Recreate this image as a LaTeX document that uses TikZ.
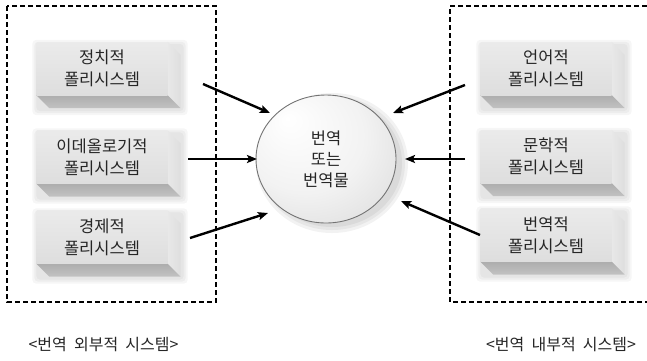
\documentclass[tikz,border=0pt]{standalone}
\usepackage{fontspec}
\setmainfont{Noto Sans CJK KR}
\newfontfamily\captionfont{Noto Sans CJK KR}[WordSpace=2]
\usetikzlibrary{arrows.meta,shapes.geometric,calc,backgrounds}

% highlight of the central disc sits up and to the left
\pgfdeclareradialshading{orbshade}{\pgfpoint{-14bp}{16bp}}{color(0bp)=(white); color(22bp)=(black!5); color(50bp)=(black!19)}

\tikzset{
  frame/.style={line width=1.6pt, dash pattern=on 5pt off 3pt},
  slab/.style={rectangle, minimum width=131pt, minimum height=53pt, inner sep=0pt,
    align=center, font=\fontsize{16.5}{22}\selectfont, text=black!85,
    top color=black!8, bottom color=black!13},
  slabside/.style={left color=black!9, right color=black!13},
  slabbottom/.style={top color=black!32, bottom color=black!24},
  feed/.style={line width=2.4pt, -{Stealth[length=10pt,width=8pt,inset=2pt]}},
  caption/.style={font=\captionfont\fontsize{16}{18}\selectfont, text=black!85, inner sep=0pt},
}

% a bevelled slab: front face as a node, bottom and right faces behind it
\newcommand\slabbox[3]{%
  \node[slab] (#1) at (#2) {#3};
  \begin{pgfonlayer}{background}
    \foreach \g in {6,4,2}
      \fill[black, opacity=0.035, rounded corners=4pt]
        ($(#1.north west)+(-\g+2,-\g+4)$) rectangle ($(#1.south east)+(13+\g+1,13+\g+1)$);
    \path[slabside] (#1.north east) -- ++(13,13) -- ($(#1.south east)+(13,13)$)
      -- (#1.south east) -- cycle;
    \path[slabbottom] (#1.south west) -- (#1.south east) -- ++(13,13)
      -- ($(#1.south west)+(13,13)$) -- cycle;
  \end{pgfonlayer}}

\begin{document}
\begin{tikzpicture}[x=1pt, y=-1pt]
\useasboundingbox (0,0) rectangle (647,360);

% outer and inner system frames
\draw[frame] (7,6) rectangle (216,302);
\draw[frame] (655,6) -- (450,6) -- (450,302) -- (655,302);

% outer polysystems
\slabbox{pol}{102,68.5}{정치적\\폴리시스템}
\slabbox{ideo}{102,157}{이데올로기적\\폴리시스템}
\slabbox{eco}{102,237}{경제적\\폴리시스템}

% inner polysystems
\slabbox{lang}{546,68.5}{언어적\\폴리시스템}
\slabbox{lit}{546,156.5}{문학적\\폴리시스템}
\slabbox{trans}{546,235}{번역적\\폴리시스템}

% soft shadow of the central disc
\foreach \g in {0,3,6}
  \fill[black, opacity=0.05] (332,163) ellipse ({70+\g} and {64+\g});

% central disc
\node[ellipse, minimum width=140pt, minimum height=128pt, draw=black!55,
  line width=0.9pt, shading=orbshade, align=center,
  font=\fontsize{16.5}{21}\selectfont, text=black!85] (orb) at (326,159)
  {번역\\또는\\번역물};

% arrow end points
\coordinate (polS) at (203,84);   \coordinate (polE) at (270,113);
\coordinate (ideoS) at (188,159); \coordinate (ideoE) at (257,159);
\coordinate (ecoS) at (190,238);  \coordinate (ecoE) at (268,213);
\coordinate (langS) at (465,85);  \coordinate (langE) at (393,113);
\coordinate (litS) at (465,159);  \coordinate (litE) at (405,159);
\coordinate (transS) at (480,235); \coordinate (transE) at (401,201);

\draw[feed] (polS) -- (polE);
\draw[feed] (ideoS) -- (ideoE);
\draw[feed] (ecoS) -- (ecoE);
\draw[feed] (langS) -- (langE);
\draw[feed] (litS) -- (litE);
\draw[feed] (transS) -- (transE);

% captions
\node[caption] (outerlbl) at (103.5,345) {<번역 외부적 시스템>};
\node[caption] (innerlbl) at (561,345) {<번역 내부적 시스템>};
\end{tikzpicture}
\end{document}
